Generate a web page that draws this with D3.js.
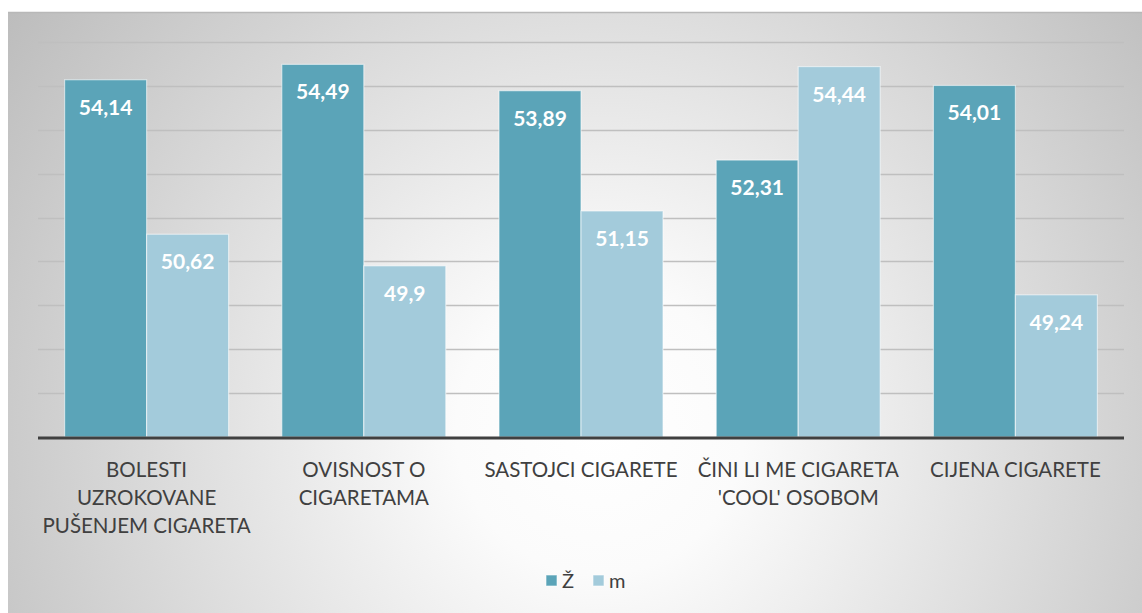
<!DOCTYPE html>
<html><head><meta charset="utf-8">
<script src="https://cdn.jsdelivr.net/npm/d3@7"></script>
<style>html,body{margin:0;padding:0;background:#fff;}</style>
</head><body>
<svg id="c" width="1142" height="613"></svg>
<script>
const categories = [
  ["BOLESTI", "UZROKOVANE", "PUŠENJEM CIGARETA"],
  ["OVISNOST O", "CIGARETAMA"],
  ["SASTOJCI CIGARETE"],
  ["ČINI LI ME CIGARETA", "'COOL' OSOBOM"],
  ["CIJENA CIGARETE"]
];
const seriesNames = ["Ž", "m"];
const valuesZ = [54.14, 54.49, 53.89, 52.31, 54.01];
const valuesM = [50.62, 49.9, 51.15, 54.44, 49.24];
const gridTicks = [47, 48, 49, 50, 51, 52, 53, 54, 55];
const colors = ["#5ba4b8", "#a3cbdb"];

const svg = d3.select("#c");
const defs = svg.append("defs");
const rg = defs.append("radialGradient").attr("id","bg")
  .attr("gradientUnits","userSpaceOnUse")
  .attr("cx",600).attr("cy",430).attr("r",720);
rg.append("stop").attr("offset","0").attr("stop-color","#ffffff");
rg.append("stop").attr("offset","0.2").attr("stop-color","#fbfbfb");
rg.append("stop").attr("offset","1").attr("stop-color","#bdbdbd");

svg.append("rect").attr("x",8).attr("y",12).attr("width",1134).attr("height",601).attr("fill","url(#bg)");
svg.append("line").attr("x1",8).attr("x2",1142).attr("y1",12.5).attr("y2",12.5).attr("stroke","#b8b8b8").attr("stroke-width",1.5);

const x0 = d3.scaleBand().domain(d3.range(categories.length)).range([38,1124]).paddingInner(0).paddingOuter(0);
const groupW = 164;
const x1 = d3.scaleBand().domain([0,1]).range([0,groupW]);
const y = d3.scaleLinear().domain([46,55]).range([437,42]);

// gridlines
svg.append("g").selectAll("line").data(gridTicks).join("line")
  .attr("x1",38).attr("x2",1124)
  .attr("y1",d=>Math.round(y(d))+0.5).attr("y2",d=>Math.round(y(d))+0.5)
  .attr("stroke","#bfbfbf").attr("stroke-width",1.5);

const data = categories.map((c,i)=>({i, vals:[valuesZ[i], valuesM[i]]}));
const g = svg.append("g").selectAll("g").data(data).join("g")
  .attr("transform",d=>`translate(${x0(d.i) + (x0.bandwidth()-groupW)/2},0)`);
g.selectAll("rect").data(d=>d.vals.map((v,k)=>({v,k}))).join("rect")
  .attr("x",d=>x1(d.k)).attr("width",x1.bandwidth())
  .attr("y",d=>y(d.v)).attr("height",d=>y(46)-y(d.v))
  .attr("fill",d=>colors[d.k]).attr("stroke","rgba(255,255,255,0.55)").attr("stroke-width",1.2);
g.selectAll("text").data(d=>d.vals.map((v,k)=>({v,k}))).join("text")
  .attr("x",d=>x1(d.k)+x1.bandwidth()/2).attr("y",d=>y(d.v)+35)
  .attr("text-anchor","middle").attr("fill","#fff")
  .attr("font-family","Lato, 'Open Sans', sans-serif").attr("font-weight","bold").attr("font-size",21)
  .text(d=>String(d.v).replace(".",","));

// baseline
svg.append("line").attr("x1",38).attr("x2",1124).attr("y1",y(46)+1).attr("y2",y(46)+1)
  .attr("stroke","#404040").attr("stroke-width",3);

// category labels
const lab = svg.append("g").selectAll("text").data(categories).join("text")
  .attr("text-anchor","middle").attr("fill","#404040")
  .attr("font-family","Lato, 'Open Sans', sans-serif").attr("font-size",20.5)
  .attr("transform",(d,i)=>`translate(${x0(i)+x0.bandwidth()/2},477)`);
lab.selectAll("tspan").data(d=>d).join("tspan")
  .attr("x",0).attr("dy",(d,j)=>j===0?0:28).text(d=>d);

// legend
const leg = svg.append("g");
const legItems = [{n:seriesNames[0],x:546},{n:seriesNames[1],x:593}];
legItems.forEach((it,k)=>{
  leg.append("rect").attr("x",it.x).attr("y",575).attr("width",11).attr("height",11).attr("fill",colors[k]).attr("stroke","rgba(255,255,255,0.6)");
  leg.append("text").attr("x",it.x+16).attr("y",588).attr("fill","#404040")
    .attr("font-family","Lato, 'Open Sans', sans-serif").attr("font-size",20).text(it.n);
});
</script>
</body></html>
